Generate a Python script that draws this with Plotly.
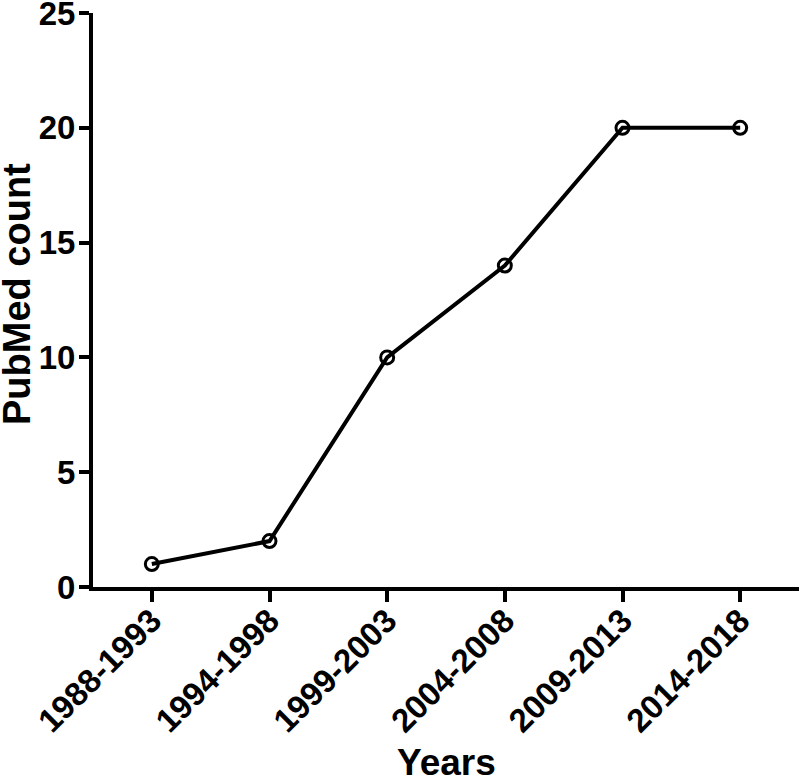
import plotly.graph_objects as go

# PubMed counts per 5-year period
periods = ["1988-1993", "1994-1998", "1999-2003", "2004-2008", "2009-2013", "2014-2018"]
counts = [1, 2, 10, 14, 20, 20]
y_ticks = [0, 5, 10, 15, 20, 25]
x_title = "Years"
y_title = "PubMed count"

font_family = "Liberation Sans, Arial, sans-serif"

fig = go.Figure()
fig.add_trace(go.Scatter(
    x=periods,
    y=counts,
    mode="lines+markers",
    line=dict(color="black", width=4),
    marker=dict(symbol="circle-open", size=13, color="black", line=dict(width=3, color="black")),
    showlegend=False,
))

fig.update_layout(
    width=800,
    height=780,
    margin=dict(l=93, r=1, t=13, b=193),
    plot_bgcolor="white",
    paper_bgcolor="white",
    font=dict(family=font_family, color="black", size=33, weight="bold"),
    xaxis=dict(
        type="category",
        range=[-0.5, 5.5],
        automargin=False,
        showline=True, linecolor="black", linewidth=4,
        ticks="outside", ticklen=11, tickwidth=4, tickcolor="black",
        tickangle=-45,
        ticklabelstandoff=-14,
        ticklabeloverflow="allow",
        tickfont=dict(size=33, family=font_family, weight="bold"),
        showgrid=False, zeroline=False,
    ),
    yaxis=dict(
        range=[0, 25],
        tickvals=y_ticks,
        automargin=False,
        showline=True, linecolor="black", linewidth=4,
        ticks="outside", ticklen=10, tickwidth=4, tickcolor="black",
        ticklabelstandoff=-3,
        ticklabeloverflow="allow",
        tickfont=dict(size=33, family=font_family, weight="bold"),
        showgrid=False, zeroline=False,
    ),
)

# axis titles as annotations (axis titles can't sit this close to the page edge)
fig.add_annotation(text=x_title, xref="paper", yref="paper", x=0.5, y=0,
                   xanchor="center", yanchor="bottom", yshift=-198, showarrow=False,
                   font=dict(size=37, family=font_family, weight="bold"))
fig.add_annotation(text=y_title, xref="paper", yref="paper", x=0, y=0.5,
                   xanchor="center", yanchor="middle", xshift=-76, yshift=6,
                   textangle=-90, showarrow=False,
                   font=dict(size=38, family=font_family, weight="bold"))

# x axis line continues slightly left of the y axis, as in the original
fig.add_shape(type="line", xref="paper", yref="paper",
              x0=-10 / 706, x1=0, y0=0, y1=0,
              line=dict(color="black", width=4))

# drop the default page margin so the figure sits at the window's corner
fig.write_html("out.html", config={"displayModeBar": False},
               post_script="document.body.style.margin = '0';")
